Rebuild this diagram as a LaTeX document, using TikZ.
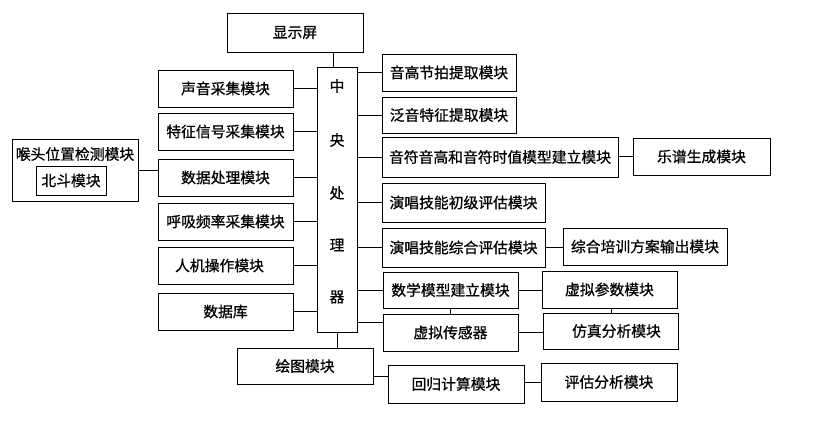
\documentclass[tikz,border=0pt]{standalone}
\usepackage{fontspec}
\newfontfamily\cjk[FakeBold=0.8]{Noto Sans CJK SC}
\usetikzlibrary{calc}
\tikzset{
  box/.style={draw, line width=1pt, rectangle, inner sep=0pt, font=\cjk\fontsize{14.8}{17}\selectfont},
  wire/.style={line width=0.8pt},
  lbl/.style={inner sep=0pt, font=\cjk\fontsize{14.8}{17}\selectfont}
}
\begin{document}
\begin{tikzpicture}[x=1pt,y=-1pt]
\useasboundingbox (0,0) rectangle (819,424);
% central
\node[box, minimum width=136, minimum height=39] (disp) at (295,32.5) {显示屏};
\node[box, minimum width=40, minimum height=265] (cpu) at (337,199.5) {};
\node[lbl] (c1) at (337,86) {中};
\node[lbl] (c2) at (337,140) {央};
\node[lbl] (c3) at (337,193) {处};
\node[lbl] (c4) at (337,245) {理};
\node[lbl] (c5) at (337,297) {器};
% left column
\node[box, minimum width=135, minimum height=37] (s1) at (225.5,88.5) {声音采集模块};
\node[box, minimum width=135, minimum height=37] (s2) at (225.5,131.5) {特征信号采集模块};
\node[box, minimum width=135, minimum height=37] (s3) at (225.5,177.5) {数据处理模块};
\node[box, minimum width=135, minimum height=37] (s4) at (225.5,221.5) {呼吸频率采集模块};
\node[box, minimum width=135, minimum height=37] (s5) at (225.5,265.5) {\hspace*{-12pt}人机操作模块};
\node[box, minimum width=135, minimum height=37] (s6) at (225.5,311.5) {数据库};
% throat box
\node[box, minimum width=126, minimum height=62] (throat) at (75,170) {};
\node[lbl] (tt) at (75,154) {喉头位置检测模块};
\node[box, minimum width=70, minimum height=29] (bd) at (71,180.5) {北斗模块};
% right column
\node[box, minimum width=134, minimum height=37] (r1) at (449,72.5) {音高节拍提取模块};
\node[box, minimum width=134, minimum height=36] (r2) at (449,115) {泛音特征提取模块};
\node[box, minimum width=236, minimum height=40] (r3) at (500,157) {音符音高和音符时值模型建立模块};
\node[box, minimum width=137, minimum height=37] (yp) at (701.5,156.5) {乐谱生成模块};
\node[box, minimum width=163, minimum height=39] (r4) at (463.5,202.5) {演唱技能初级评估模块};
\node[box, minimum width=163, minimum height=39] (r5) at (463.5,247.5) {演唱技能综合评估模块};
\node[box, minimum width=164, minimum height=37] (zh) at (645,246.5) {综合培训方案输出模块};
\node[box, minimum width=135, minimum height=36] (r6) at (450.5,290) {数学模型建立模块};
\node[box, minimum width=135, minimum height=37] (vp) at (609.5,289.5) {虚拟参数模块};
\node[box, minimum width=135, minimum height=37] (r7) at (450.5,332.5) {虚拟传感器};
\node[box, minimum width=135, minimum height=36] (fz) at (610.5,331) {\hspace*{12pt}仿真分析模块};
\node[box, minimum width=136, minimum height=36] (drw) at (305,366) {绘图模块};
\node[box, minimum width=136, minimum height=38] (hg) at (456,384) {回归计算模块};
\node[box, minimum width=136, minimum height=38] (pg) at (609,382) {评估分析模块};
% connectors
\draw[wire] ($(cpu.north)+(-4,0)$) -- ($(cpu.north|-disp.south)+(-4,0)$);
\foreach \s in {s1,s2,s3,s4,s5,s6} \draw[wire] (\s.east) -- (\s.east -| cpu.west);
\foreach \r in {r1,r2,r3,r4,r5,r6} \draw[wire] (cpu.east |- \r.west) -- (\r.west);
\draw[wire] ($(r7.west)+(0,-10)$) -- ($(r7.west -| cpu.east)+(0,-10)$);
\draw[wire] (throat.east) -- (throat.east -| s3.west);
\draw[wire] (r3.east |- yp.west) -- (yp.west);
\draw[wire] (r5.east) -- (r5.east -| zh.west);
\draw[wire] (r6.east) -- (r6.east -| vp.west);
\draw[wire] (r6.south) -- (r7.north);
\draw[wire] ($(vp.south)+(2,0)$) -- ($(vp.south |- fz.north)+(2,0)$);
\draw[wire] (r7.east) -- (r7.east -| fz.west);
\draw[wire] (cpu.south) -- (cpu.south |- drw.north);
\draw[wire] ($(drw.east)+(0,10)$) -- ($(drw.east -| hg.west)+(0,10)$);
\draw[wire] (hg.east |- pg.west) -- (pg.west);
\end{tikzpicture}
\end{document}
